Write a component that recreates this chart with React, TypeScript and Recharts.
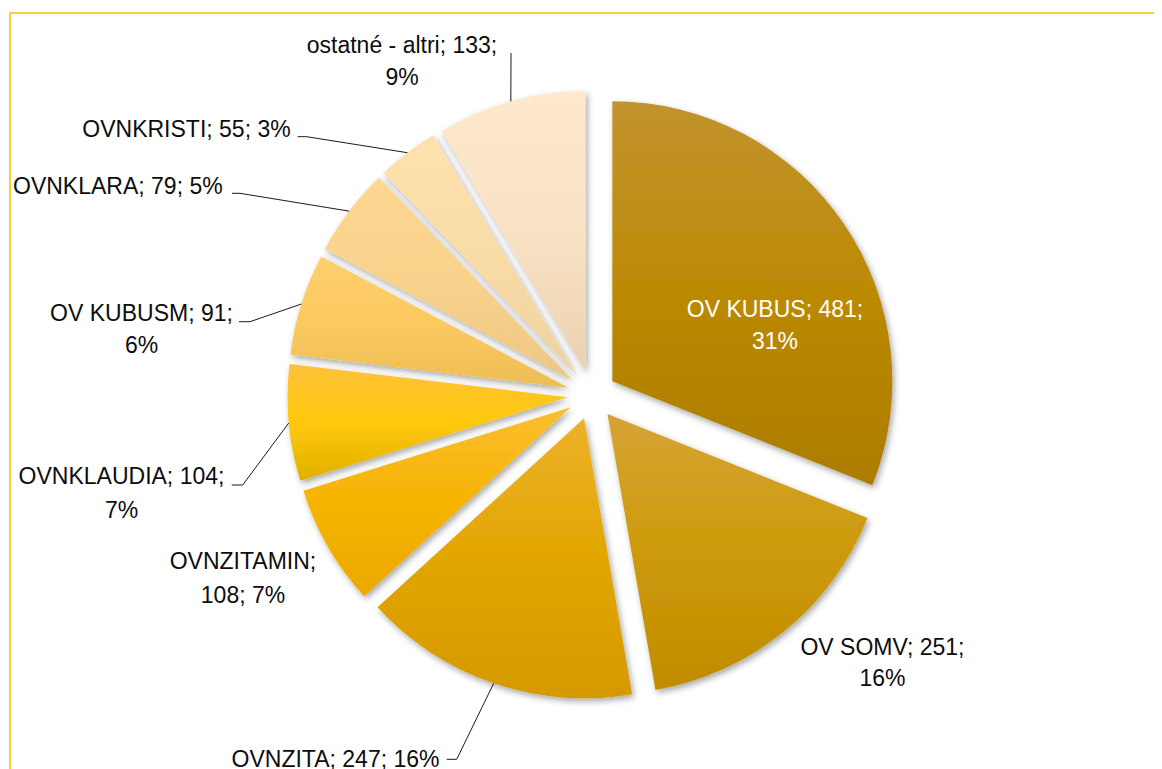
import React from 'react';
import { PieChart, Pie, Cell } from 'recharts';

// ---- data ----
const names = ['OV KUBUS', 'OV SOMV', 'OVNZITA', 'OVNZITAMIN', 'OVNKLAUDIA', 'OV KUBUSM', 'OVNKLARA', 'OVNKRISTI', 'ostatné - altri'];
const values = [481, 251, 247, 108, 104, 91, 79, 55, 133];
const percents = [31, 16, 16, 7, 7, 6, 5, 3, 9];

// ---- styles ----
const topColors = ['#C2932F', '#D6A436', '#ECB22A', '#FBBE32', '#FDC23C', '#FECF6C', '#FED792', '#FEE1AC', '#FEE9CD'];
const midColors = ['#BB8A04', '#CD9A0A', '#E2A600', '#F5B400', '#FFC80A', '#FBC960', '#F9D28C', '#F9DBA6', '#F9E2C4'];
const bottomColors = ['#AC7C00', '#C08C00', '#D49900', '#ECA800', '#E0B000', '#EDBE55', '#ECC684', '#EED2A0', '#EAD2B0'];

const W = 1154;
const H = 761;
const CX = 584;
const CY = 387;
const R = 280;
const EXPLODE = 24.6;
const FONT = "'Liberation Sans', Arial, sans-serif";
const FONT_SIZE = 23;

type Layout = {
  x: number;
  anchor: 'start' | 'middle' | 'end';
  split: number;
  baselines: number[];
  color: string;
  leader: number[][] | null;
};

const labelLayout: Layout[] = [
  { x: 767, anchor: 'middle', split: 2, baselines: [309, 341], color: '#FFFFFF', leader: null },
  { x: 874.5, anchor: 'middle', split: 2, baselines: [647, 678], color: '#0D0D0D', leader: null },
  { x: 431.5, anchor: 'end', split: 3, baselines: [759], color: '#0D0D0D', leader: [[438.7, 751.3], [448.7, 751.3]] },
  { x: 235, anchor: 'middle', split: 1, baselines: [561, 594.7], color: '#0D0D0D', leader: null },
  { x: 113.5, anchor: 'middle', split: 2, baselines: [476, 510], color: '#0D0D0D', leader: [[223.7, 477], [234.7, 477]] },
  { x: 133.5, anchor: 'middle', split: 2, baselines: [312.7, 344.7], color: '#0D0D0D', leader: [[231, 313.7], [242, 313.7]] },
  { x: 214.7, anchor: 'end', split: 3, baselines: [186], color: '#0D0D0D', leader: [[224, 185.3], [232, 185.3]] },
  { x: 282.7, anchor: 'end', split: 3, baselines: [129.3], color: '#0D0D0D', leader: [[289.7, 128.7], [298.7, 128.7]] },
  { x: 394, anchor: 'middle', split: 2, baselines: [45.3, 77], color: '#0D0D0D', leader: [[503, 45]] },
];

const data = names.map((name, i) => ({ name, value: values[i] }));
const total = values.reduce((a, b) => a + b, 0);

// mid angle of each slice (start at 12 o'clock, clockwise), used for the explode offset
const midAngles: number[] = (() => {
  let acc = 0;
  return values.map((v) => {
    const mid = 90 - ((acc + v / 2) / total) * 360;
    acc += v;
    return mid;
  });
})();

const RAD = Math.PI / 180;

const makeLabel = (i: number) => (props: any) => {
  if (props.index !== i) return null;
  const L = labelLayout[i];
  const px = props.cx + props.outerRadius * Math.cos(-props.midAngle * RAD);
  const py = props.cy + props.outerRadius * Math.sin(-props.midAngle * RAD);
  const segs = [`${names[i]};`, `${values[i]};`, `${percents[i]}%`];
  const lines = [segs.slice(0, L.split).join(' '), segs.slice(L.split).join(' ')].filter((s) => s.length > 0);
  const pts = L.leader ? [...L.leader, [px, py]] : null;
  return (
    <g key={`lbl-${i}`}>
      {pts && (
        <polyline
          points={pts.map((p) => p.join(',')).join(' ')}
          fill="none"
          stroke="#1A1A1A"
          strokeWidth={1}
        />
      )}
      <text fontFamily={FONT} fontSize={FONT_SIZE} fill={L.color} textAnchor={L.anchor}>
        {lines.map((ln, k) => (
          <tspan key={k} x={L.x} y={L.baselines[k]}>
            {ln}
          </tspan>
        ))}
      </text>
    </g>
  );
};

export default function App() {
  return (
    <div style={{ position: 'relative', width: W, height: H, overflow: 'hidden', background: '#fff' }}>
      <svg width={0} height={0} style={{ position: 'absolute' }}>
        <defs>
          {names.map((_, i) => (
            <linearGradient key={i} id={`grad${i}`} x1="0" y1="0" x2="0" y2="1">
              <stop offset="0%" stopColor={topColors[i]} />
              <stop offset="50%" stopColor={midColors[i]} />
              <stop offset="100%" stopColor={bottomColors[i]} />
            </linearGradient>
          ))}
          <filter id="shadow" x="-20%" y="-20%" width="140%" height="140%">
            <feDropShadow dx="2" dy="3" stdDeviation="3" floodColor="#000" floodOpacity="0.35" />
          </filter>
        </defs>
      </svg>
      <div
        style={{
          position: 'absolute',
          left: 1,
          top: 4,
          width: 1300,
          height: 900,
          border: '2px solid #F9CE3C',
          boxSizing: 'border-box',
        }}
      />
      <div style={{ position: 'absolute', left: 0, top: 0 }}>
        <PieChart width={W} height={H} margin={{ top: 0, right: 0, bottom: 0, left: 0 }}>
          {names.map((_, i) => (
            <Pie
              key={`pie-${i}`}
              data={data}
              dataKey="value"
              nameKey="name"
              cx={CX + EXPLODE * Math.cos(midAngles[i] * RAD)}
              cy={CY - EXPLODE * Math.sin(midAngles[i] * RAD)}
              innerRadius={0}
              outerRadius={R}
              startAngle={90}
              endAngle={-270}
              stroke="none"
              isAnimationActive={false}
              label={makeLabel(i)}
              labelLine={false}
            >
              {data.map((_, j) => (
                <Cell
                  key={`c-${i}-${j}`}
                  fill={j === i ? `url(#grad${j})` : 'transparent'}
                  filter={j === i ? 'url(#shadow)' : undefined}
                />
              ))}
            </Pie>
          ))}
        </PieChart>
      </div>
    </div>
  );
}
